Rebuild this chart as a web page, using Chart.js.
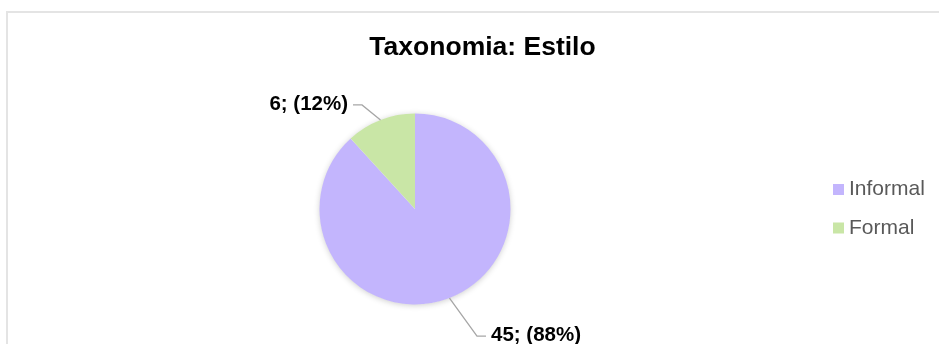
<!DOCTYPE html>
<html>
<head>
<meta charset="utf-8">
<title>Taxonomia: Estilo</title>
<script src="https://cdn.jsdelivr.net/npm/chart.js@4"></script>
<style>
    body { margin: 0; background: #ffffff; }
    #wrap { position: relative; width: 939px; height: 344px; }
</style>
</head>
<body>
<div id="wrap">
    <canvas id="chart" width="939" height="344"></canvas>
</div>
<script>
// Dados do gráfico
const categorias = ['Informal', 'Formal'];
const valores = [45, 6];
const cores = ['rgb(195, 181, 253)', 'rgb(201, 230, 166)'];
const titulo = 'Taxonomia: Estilo';

const FONTE = '"Liberation Sans", Arial, sans-serif';

// Moldura, sombra do pie, título, rótulos e legenda
const estiloPlugin = {
    id: 'estiloExcel',
    beforeDraw(chart) {
        const ctx = chart.ctx;
        ctx.save();
        ctx.strokeStyle = '#e4e4e4';
        ctx.lineWidth = 2;
        ctx.strokeRect(7, 12, chart.width + 20, chart.height + 20);
        ctx.restore();
    },
    beforeDatasetsDraw(chart) {
        // sombra suave à volta do pie
        const arc = chart.getDatasetMeta(0).data[0];
        if (!arc) return;
        const ctx = chart.ctx;
        ctx.save();
        ctx.shadowColor = 'rgba(0, 0, 0, 0.22)';
        ctx.shadowBlur = 6;
        ctx.shadowOffsetY = 1;
        ctx.fillStyle = '#ffffff';
        ctx.beginPath();
        ctx.arc(arc.x, arc.y, arc.outerRadius - 0.5, 0, Math.PI * 2);
        ctx.fill();
        ctx.restore();
    },
    afterDraw(chart, args, opts) {
        const ctx = chart.ctx;
        const meta = chart.getDatasetMeta(0);
        const total = valores.reduce((a, b) => a + b, 0);

        // Título
        ctx.save();
        ctx.fillStyle = '#000000';
        ctx.font = 'bold 26.5px ' + FONTE;
        ctx.textAlign = 'center';
        ctx.textBaseline = 'middle';
        ctx.fillText(titulo, opts.tituloX, opts.tituloY);

        // Rótulos de dados com linhas de chamada
        meta.data.forEach((arc, i) => {
            const meio = (arc.startAngle + arc.endAngle) / 2;
            const px = arc.x + Math.cos(meio) * arc.outerRadius;
            const py = arc.y + Math.sin(meio) * arc.outerRadius;
            const off = opts.chamadas[i];
            const ex = px + off.dx;
            const ey = py + off.dy;
            const hx = ex + off.lado * 9;

            ctx.strokeStyle = '#a6a6a6';
            ctx.lineWidth = 1.3;
            ctx.beginPath();
            ctx.moveTo(px, py);
            ctx.lineTo(ex, ey);
            ctx.lineTo(hx, ey);
            ctx.stroke();

            const pct = Math.round(valores[i] / total * 100);
            const texto = `${valores[i]}; (${pct}%)`;
            ctx.fillStyle = '#000000';
            ctx.font = 'bold 20.5px ' + FONTE;
            ctx.textAlign = off.lado > 0 ? 'left' : 'right';
            ctx.textBaseline = 'middle';
            ctx.fillText(texto, hx + off.lado * 5, ey - 1);
        });

        // Legenda
        ctx.font = '21px ' + FONTE;
        ctx.textAlign = 'left';
        ctx.textBaseline = 'middle';
        categorias.forEach((nome, i) => {
            const y = opts.legendaY + i * opts.legendaPasso;
            ctx.fillStyle = cores[i];
            ctx.fillRect(opts.legendaX, y - 5.5, 11, 11);
            ctx.fillStyle = '#595959';
            ctx.fillText(nome, opts.legendaX + 16, y);
        });
        ctx.restore();
    }
};

const ctx = document.getElementById('chart').getContext('2d');
new Chart(ctx, {
    type: 'pie',
    data: {
        labels: categorias,
        datasets: [{
            data: valores,
            backgroundColor: cores,
            borderWidth: 0
        }]
    },
    options: {
        responsive: false,
        animation: false,
        layout: {
            padding: { top: 113.5, bottom: 39.5, left: 0, right: 109 }
        },
        plugins: {
            legend: { display: false },
            title: { display: false },
            tooltip: { enabled: false },
            estiloExcel: {
                tituloX: 482.5,
                tituloY: 48,
                chamadas: [
                    { dx: 27.5, dy: 38, lado: 1 },
                    { dx: -18.5, dy: -15, lado: -1 }
                ],
                legendaX: 833,
                legendaY: 189.5,
                legendaPasso: 38.5
            }
        }
    },
    plugins: [estiloPlugin]
});
</script>
</body>
</html>
